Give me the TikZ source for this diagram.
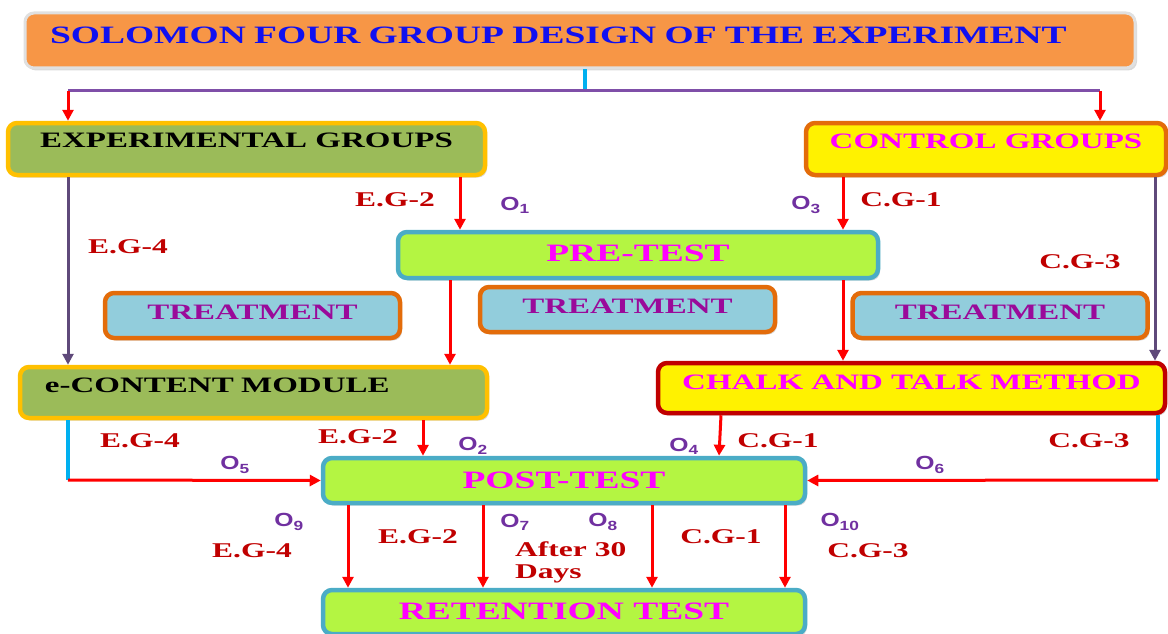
\documentclass[tikz,border=0pt]{standalone}
\usepackage{fontspec}
\setmainfont{Liberation Serif}[FakeStretch=1.5]
\newfontfamily\obsfont{Liberation Sans}[FakeStretch=1.3]
\usetikzlibrary{arrows.meta,shadows}
\definecolor{titlefill}{HTML}{F79646}
\definecolor{titleblue}{HTML}{1010F0}
\definecolor{groupgreen}{HTML}{9BBB59}
\definecolor{groupgold}{HTML}{FFC000}
\definecolor{ctrlorange}{HTML}{E36C0A}
\definecolor{chalkred}{HTML}{C00000}
\definecolor{testlime}{HTML}{B4F542}
\definecolor{testblue}{HTML}{4BACC6}
\definecolor{treatfill}{HTML}{92CDDC}
\definecolor{treattext}{HTML}{9A0A9A}
\definecolor{labred}{HTML}{C00000}
\definecolor{obspurple}{HTML}{7030A0}
\definecolor{linepurple}{HTML}{7F4FA8}
\definecolor{slatepurple}{HTML}{5F497A}
\definecolor{linecyan}{HTML}{00B0F0}
\definecolor{pinktext}{HTML}{FF00FF}
\newcommand{\obs}[1]{O\textsubscript{#1}}
\tikzset{>={Triangle[length=11pt,width=11pt]},
  box/.style={draw, rounded corners=9pt, line width=4.5pt, inner sep=0pt,
    font=\bfseries\fontsize{22}{26}\selectfont, text height=14pt,
    drop shadow={shadow xshift=2pt, shadow yshift=-2.5pt, opacity=0.3}},
  groupbox/.style={box, fill=groupgreen, draw=groupgold, text=black},
  ctrlbox/.style={box, fill=yellow, draw=ctrlorange, text=pinktext},
  testbox/.style={box, fill=testlime, draw=testblue, text=pinktext,
    font=\bfseries\fontsize{25}{29}\selectfont, text height=16pt},
  treatbox/.style={box, fill=treatfill, draw=ctrlorange, text=treattext,
    minimum width=295pt, minimum height=45pt, text depth=7pt},
  lab/.style={text=labred, inner sep=0pt, font=\bfseries\fontsize{21}{22}\selectfont},
  obslab/.style={text=obspurple, inner sep=0pt, font=\obsfont\bfseries\fontsize{19}{21}\selectfont},
  redline/.style={->, red, line width=3pt},
  purpleline/.style={->, slatepurple, line width=3pt},
  cyanline/.style={linecyan, line width=3.5pt}
}
\begin{document}
\begin{tikzpicture}[x=1pt, y=-1pt]
  \useasboundingbox (0,0) rectangle (1168,634);

  % boxes
  \node[box, fill=titlefill, draw=black!12, line width=3pt, text=titleblue, minimum width=1110pt,
    minimum height=55pt, text width=1060pt, align=left, font=\bfseries\fontsize{25}{29}\selectfont,
    text height=17pt, text depth=11pt] (title) at (580,40.5)
    {SOLOMON FOUR GROUP DESIGN OF THE EXPERIMENT};
  \node[groupbox, minimum width=477pt, minimum height=52pt, text depth=18pt] (exp) at (246.5,149)
    {EXPERIMENTAL GROUPS};
  \node[ctrlbox, minimum width=360pt, minimum height=52pt, text depth=16pt] (ctrl) at (986,149)
    {CONTROL GROUPS};
  \node[testbox, minimum width=480pt, minimum height=46pt, text depth=4pt] (pre) at (638,255)
    {PRE-TEST};
  \node[treatbox] (treat1) at (252.5,315.5) {TREATMENT};
  \node[treatbox] (treat2) at (627.5,309.5) {TREATMENT};
  \node[treatbox] (treat3) at (1000,315.5) {TREATMENT};
  \node[groupbox, minimum width=467pt, minimum height=51pt, text width=417pt, align=left,
    text depth=15pt] (econ) at (253.5,392.5) {e-CONTENT MODULE};
  \node[ctrlbox, draw=chalkred, minimum width=507pt, minimum height=50pt, text depth=12pt] (chalk)
    at (911.5,388) {CHALK AND TALK METHOD};
  \node[testbox, minimum width=482pt, minimum height=45pt, text depth=1pt] (post) at (564,480.5)
    {POST-TEST};
  \node[testbox, minimum width=482pt, minimum height=44pt, text depth=1pt] (ret) at (564,612)
    {RETENTION TEST};

  % split below the title
  \coordinate (split) at (585,91);
  \coordinate (tl) at (68,91);
  \coordinate (tr) at (1100,91);
  \coordinate (bl) at (68,480);
  \coordinate (br) at (1158,480);
  \draw[cyanline] (title.south -| split) -- (split);
  \draw[linepurple, line width=3pt] (tl) -- (tr);
  \draw[redline] (tl) -- (tl |- exp.north);
  \draw[redline] (tr) -- (tr |- ctrl.north);

  % groups to pre-test and methods
  \draw[purpleline] (exp.south -| tl) -- (econ.north -| tl);
  \draw[redline] (exp.south -| 460,0) -- (pre.north -| 460,0);
  \draw[redline] (ctrl.south -| 843,0) -- (pre.north -| 843,0);
  \draw[purpleline] (ctrl.south -| 1155,0) -- (chalk.north -| 1155,0);
  \draw[redline] (pre.south -| 450,0) -- (econ.north -| 450,0);
  \draw[redline] (pre.south -| 843,0) -- (chalk.north -| 843,0);

  % methods to post-test
  \draw[cyanline] (econ.south -| bl) -- (bl);
  \draw[redline] (bl) -- (post.west);
  \draw[redline] (econ.south -| 423,0) -- (post.north -| 423,0);
  \draw[redline] (chalk.south -| 721,0) -- (post.north -| 719,0);
  \draw[cyanline] (chalk.south -| br) -- (br);
  \draw[redline] (br) -- (post.east);

  % post-test to retention test
  \foreach \xa in {348,483,652,785}
    \draw[redline] (post.south -| \xa,0) -- (ret.north -| \xa,0);

  % labels
  \node[lab] (eg2a) at (395,200) {E.G-2};
  \node[obslab] (o1) at (515,205) {\obs{1}};
  \node[lab] (eg4a) at (128,247) {E.G-4};
  \node[obslab] (o3) at (806,205) {\obs{3}};
  \node[lab] (cg1a) at (901,200) {C.G-1};
  \node[lab] (cg3a) at (1080,262) {C.G-3};
  \node[lab] (eg4b) at (140,441) {E.G-4};
  \node[obslab] (o5) at (235,465) {\obs{5}};
  \node[lab] (eg2b) at (358,437) {E.G-2};
  \node[obslab] (o2) at (473,446) {\obs{2}};
  \node[obslab] (o4) at (684,446) {\obs{4}};
  \node[lab] (cg1b) at (778,441) {C.G-1};
  \node[lab] (cg3b) at (1089,441) {C.G-3};
  \node[obslab] (o6) at (930,465) {\obs{6}};
  \node[obslab] (o9) at (289,522) {\obs{9}};
  \node[lab] (eg4c) at (252,551) {E.G-4};
  \node[lab] (eg2c) at (418,537) {E.G-2};
  \node[obslab] (o7) at (515,522) {\obs{7}};
  \node[obslab] (o8) at (603,522) {\obs{8}};
  \node[lab, anchor=west, align=left] (after) at (515,562) {After 30\\Days};
  \node[lab] (cg1c) at (721,537) {C.G-1};
  \node[obslab] (o10) at (840,522) {\obs{10}};
  \node[lab] (cg3c) at (868,551) {C.G-3};
\end{tikzpicture}
\end{document}
